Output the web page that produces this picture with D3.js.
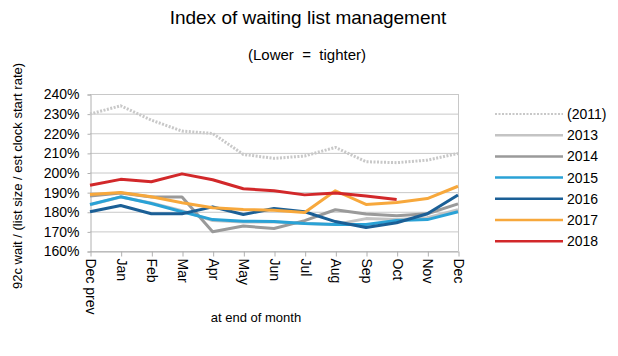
<!DOCTYPE html>
<html><head><meta charset="utf-8">
<script src="https://cdn.jsdelivr.net/npm/d3@7"></script>
<style>body{margin:0;background:#fff;font-family:"Liberation Sans",Arial,sans-serif;}</style>
</head><body><svg id="c" width="618" height="356"></svg>
<script>
const months = ["Dec prev","Jan","Feb","Mar","Apr","May","Jun","Jul","Aug","Sep","Oct","Nov","Dec"];
const yTicks = [160,170,180,190,200,210,220,230,240];
const seriesNames = ["(2011)","2013","2014","2015","2016","2017","2018"];
const s2011 = [229.8,234,226.7,221.1,219.9,209.2,207.2,208.4,212.8,205.5,205,206.3,209.7];
const s2013 = [183.5,187.5,184.5,180.5,175.5,174.8,174.8,174,173.5,176.5,176,177,181];
const s2014 = [188,189.5,187.5,187.5,169.8,172.7,171.5,175.5,181,178.8,178,179,184];
const s2015 = [183.7,187.6,184.2,180,176,175.2,175,174,173.5,173.5,175.5,176,180];
const s2016 = [180,183.2,179,179,182.5,178.6,181.7,180,175,172,174.4,179,188.5];
const s2017 = [188.8,189.8,187.6,184.6,182,181.2,180.8,179.6,190.7,183.7,184.7,186.7,193];
const s2018 = [193.5,196.5,195.3,199.3,196.3,191.7,190.7,188.6,189.5,188,186.2];
const colors = ["#c8c8c8","#c4c4c4","#9a9a9a","#2aa2d6","#1b5f96","#f7a83c","#d2282a"];
const allSeries = [s2011,s2013,s2014,s2015,s2016,s2017,s2018];

const svg = d3.select("#c");
const x = d3.scalePoint().domain(months).range([90,458]);
const y = d3.scaleLinear().domain([160,240]).range([251,94]);

// grid
svg.append("g").selectAll("line").data(yTicks).join("line")
  .attr("x1",90).attr("x2",458).attr("y1",d=>y(d)+0.5).attr("y2",d=>y(d)+0.5)
  .attr("stroke","#c8c8c8").attr("stroke-width",1);
svg.append("line").attr("x1",458.5).attr("x2",458.5).attr("y1",y(240)).attr("y2",y(160)).attr("stroke","#c8c8c8");

// y axis
const ya = svg.append("g").attr("transform","translate(90.5,0.5)")
  .call(d3.axisLeft(y).tickValues(yTicks).tickSize(3).tickPadding(8).tickFormat(d=>d+"%"));
ya.select(".domain").attr("stroke","#b0b0b0");
ya.selectAll(".tick line").attr("stroke","#b0b0b0");
ya.selectAll("text").attr("font-size","14px").attr("fill","#000").attr("font-family","Liberation Sans, Arial, sans-serif");

// x axis
const xa = svg.append("g").attr("transform","translate(0.5,251.5)")
  .call(d3.axisBottom(x).tickSize(5).tickSizeOuter(0));
xa.select(".domain").attr("stroke","#b0b0b0");
xa.selectAll(".tick line").attr("stroke","#b0b0b0");
xa.selectAll("text").attr("font-size","14px").attr("fill","#000").attr("font-family","Liberation Sans, Arial, sans-serif")
  .attr("transform","rotate(90)").attr("text-anchor","start").attr("dy","0.35em").attr("x",7).attr("y",0);

// lines
const line = d3.line().x((d,i)=>x(months[i])).y(d=>y(d));
allSeries.forEach((s,i)=>{
  svg.append("path").datum(s).attr("d",line).attr("fill","none")
    .attr("stroke",colors[i]).attr("stroke-width",3)
    .attr("stroke-dasharray", i===0?"2,1.5":null)
    .attr("stroke-linejoin","round");
});

// legend
const lg = svg.append("g");
seriesNames.forEach((n,i)=>{
  const yy = 114 + i*21.2;
  lg.append("line").attr("x1",495).attr("x2",563).attr("y1",yy).attr("y2",yy)
    .attr("stroke",colors[i]).attr("stroke-width",i===0?2:2.5).attr("stroke-dasharray",i===0?"2,1.5":null);
  lg.append("text").attr("x",567).attr("y",yy).attr("dy","0.35em").attr("font-size","14px").text(n);
});

// titles
svg.append("text").attr("x",308).attr("y",24).attr("text-anchor","middle").attr("font-size","19px").text("Index of waiting list management");
svg.append("text").attr("x",307).attr("y",60).attr("text-anchor","middle").attr("font-size","15px").attr("xml:space","preserve").text("(Lower  =  tighter)");
svg.append("text").attr("transform","translate(22,176) rotate(-90)").attr("text-anchor","middle").attr("font-size","13px").text("92c wait / (list size / est clock start rate)");
svg.append("text").attr("x",256).attr("y",322).attr("text-anchor","middle").attr("font-size","13px").text("at end of month");
</script></body></html>
